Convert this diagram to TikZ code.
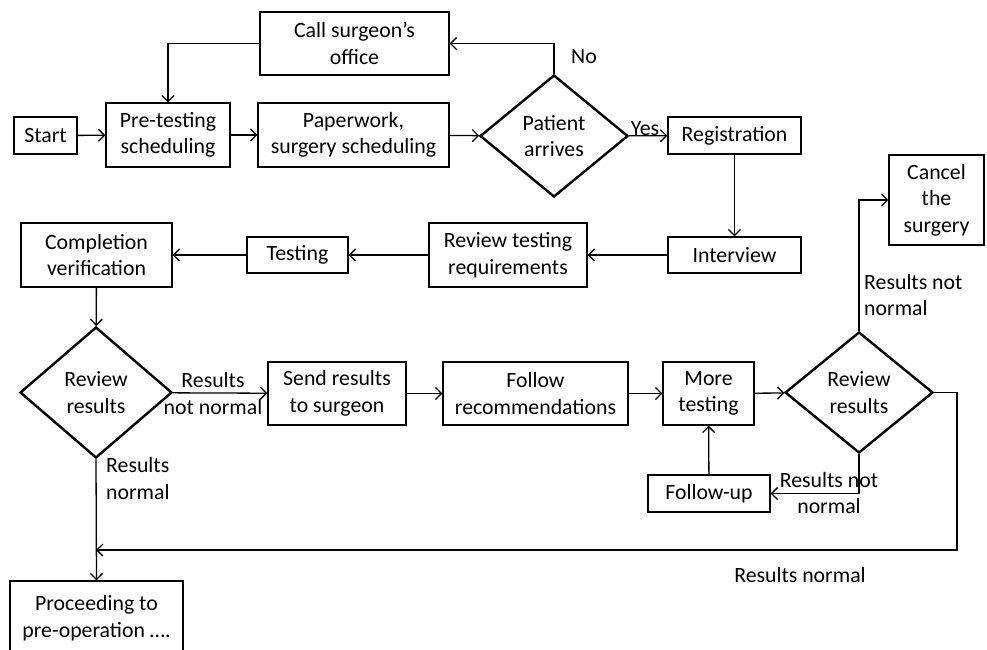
\documentclass[tikz,border=0pt]{standalone}
\usepackage{fontspec}
\setmainfont{Carlito}
\usetikzlibrary{arrows.meta,shapes.geometric}
\newcommand{\fnt}{\fontsize{21.8}{26.5}\selectfont}
\tikzset{
  box/.style={draw, line width=1.3pt, align=center, inner sep=0pt, font=\fnt},
  dia/.style={draw, diamond, line width=2.4pt, align=center, inner sep=0pt, font=\fnt},
  lab/.style={align=left, inner sep=0pt, font=\fnt},
  conn/.style={line width=1.3pt, -{Straight Barb[length=6pt,width=12pt,line width=1.3pt]}},
}
\begin{document}
\begin{tikzpicture}[x=1pt,y=-1pt]
\useasboundingbox (0,0) rectangle (987,649);
\begin{scope}
\clip (0,0) rectangle (987,649);
\node[box, minimum width=63pt, minimum height=37pt] (start) at (45.5,135.5) {Start};
\node[box, minimum width=124pt, minimum height=64pt] (pre) at (168,135) {Pre-testing\\scheduling};
\node[box, minimum width=191pt, minimum height=64pt] (paper) at (353.5,135) {Paperwork,\\surgery scheduling};
\node[box, minimum width=189pt, minimum height=63pt] (call) at (354.5,43.5) {Call surgeon’s\\office};
\node[dia, minimum width=148pt, minimum height=122pt] (patient) at (554,136) {Patient\\arrives};
\node[box, minimum width=133pt, minimum height=37pt] (reg) at (734.5,135.5) {Registration};
\node[box, minimum width=95pt, minimum height=90pt] (cancel) at (936.5,200) {Cancel\\the\\surgery};
\node[box, minimum width=133pt, minimum height=36pt] (interview) at (734.5,255) {Interview};
\node[box, minimum width=158pt, minimum height=64pt] (revtest) at (508,255) {Review testing\\requirements};
\node[box, minimum width=101pt, minimum height=36pt] (testing) at (297.5,255) {Testing};
\node[box, minimum width=151pt, minimum height=64pt] (compl) at (96.5,255) {Completion\\verification};
\node[dia, minimum width=152pt, minimum height=131pt] (rev1) at (96,392.5) {Review\\results};
\node[box, minimum width=138pt, minimum height=63pt] (send) at (337,393.5) {Send results\\to surgeon};
\node[box, minimum width=185pt, minimum height=63pt] (follow) at (535.5,393.5) {Follow\\recommendations};
\node[box, minimum width=91pt, minimum height=63pt] (more) at (708.5,393.5) {More\\testing};
\node[dia, minimum width=148pt, minimum height=121pt] (rev2) at (859,392.5) {Review\\results};
\node[box, minimum width=122pt, minimum height=37pt] (followup) at (709,493.5) {Follow-up};
\node[box, minimum width=173pt, minimum height=74pt] (proc) at (96.5,618) {Proceeding to\\pre-operation ….};

\coordinate (c1) at (957,550);
\coordinate (j) at (96,550);

\draw[conn] (start) -- (pre);
\draw[conn] (pre) -- (paper);
\draw[conn] (paper) -- (patient);
\draw[conn] (patient) -- (reg);
\draw[conn] (patient.north) |- (call.east);
\draw[conn] (call.west) -| (pre.north);
\draw[conn] (reg) -- (interview);
\draw[conn] (interview) -- (revtest);
\draw[conn] (revtest) -- (testing);
\draw[conn] (testing) -- (compl);
\draw[conn] (compl) -- (rev1);
\draw[conn] (rev1) -- (send);
\draw[conn] (send) -- (follow);
\draw[conn] (follow) -- (more);
\draw[conn] (more) -- (rev2);
\draw[conn] (rev2.north) |- (cancel.west);
\draw[conn] (rev2.south) |- (followup.east);
\draw[conn] (followup) -- (more);
\draw[conn] (rev2.east) -| (c1) -- (j);
\draw[conn] (rev1.south) -- (proc.north);

\node[lab, anchor=south] (lyes) at (645,136) {Yes};
\node[lab, anchor=west] (lno) at (571,57) {No};
\node[lab, align=center] (lnn1) at (213,393.5) {Results\\not normal};
\node[lab, anchor=west] (lnn2) at (864,295) {Results not\\normal};
\node[lab, align=center] (lnn3) at (829,493) {Results not\\normal};
\node[lab, anchor=west] (ln1) at (106,478.5) {Results\\normal};
\node[lab] (ln2) at (800,575) {Results normal};
\end{scope}
\end{tikzpicture}
\end{document}
